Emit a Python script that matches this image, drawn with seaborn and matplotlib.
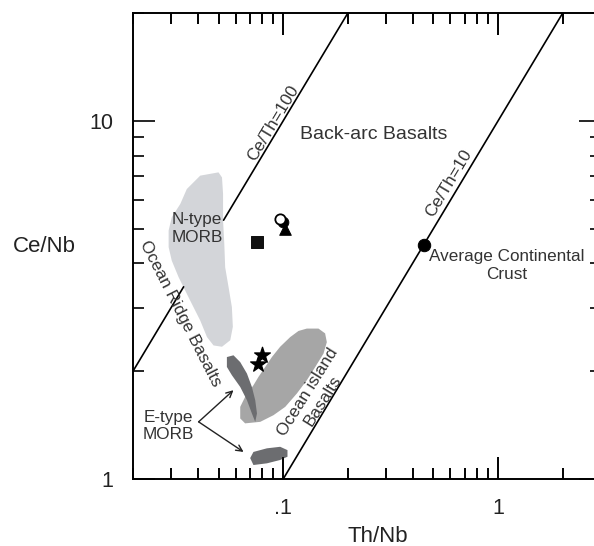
import matplotlib
matplotlib.use("Agg")
import matplotlib.pyplot as plt
from matplotlib.patches import FancyArrowPatch
from matplotlib.ticker import NullFormatter, FixedLocator, FixedFormatter, LogLocator
import seaborn as sns

# Compositional fields (Th/Nb, Ce/Nb)
nmorb_th_nb = [0.050, 0.0411, 0.0356, 0.0332, 0.0303, 0.0293, 0.0293, 0.0303, 0.0326, 0.0369,
               0.0411, 0.0442, 0.0474, 0.0519, 0.0567, 0.0583, 0.0577, 0.0557, 0.0537, 0.0532,
               0.0525, 0.0525, 0.0519]
nmorb_ce_nb = [7.18, 7.03, 6.45, 5.86, 5.38, 4.94, 4.44, 4.07, 3.66, 3.15,
               2.77, 2.49, 2.36, 2.34, 2.44, 2.66, 3.02, 3.43, 3.90, 4.53,
               5.27, 6.25, 6.95]

oib_th_nb = [0.1288, 0.146, 0.1567, 0.1596, 0.154, 0.141, 0.1288, 0.1158, 0.1022, 0.0901,
             0.0782, 0.0665, 0.0631, 0.0631, 0.0665, 0.0727, 0.0767, 0.0825, 0.0886, 0.0968,
             0.1078, 0.1178]
oib_ce_nb = [2.63, 2.63, 2.55, 2.41, 2.24, 2.055, 1.887, 1.733, 1.59, 1.507,
             1.444, 1.43, 1.476, 1.59, 1.695, 1.827, 1.927, 2.055, 2.19, 2.34,
             2.49, 2.59]

emorb_a_th_nb = [0.0547, 0.0587, 0.0631, 0.0678, 0.0715, 0.0741, 0.0755, 0.0741, 0.0715,
                 0.0678, 0.0631, 0.0577, 0.0547]
emorb_a_ce_nb = [2.19, 2.215, 2.12, 1.97, 1.807, 1.66, 1.524, 1.444, 1.524,
                 1.66, 1.807, 1.949, 2.055]

emorb_b_th_nb = [0.0727, 0.084, 0.0968, 0.1047, 0.1047, 0.0968, 0.084, 0.0727, 0.0702]
emorb_b_ce_nb = [1.19, 1.218, 1.23, 1.204, 1.154, 1.13, 1.106, 1.094, 1.144]

# Constant Ce/Th reference lines
ce_th100_low_x = [0.02, 0.0344]
ce_th100_low_y = [2.0, 3.44]
ce_th100_high_x = [0.0528, 0.2]
ce_th100_high_y = [5.28, 20.0]
ce_th10_x = [0.1, 2.0]
ce_th10_y = [1.0, 20.0]

# Samples
open_circle = (0.0965, 5.33)
filled_circle = (0.100, 5.21)
triangle = (0.1018, 4.99)
square = (0.0752, 4.58)
stars_th_nb = [0.0796, 0.0767]
stars_ce_nb = [2.215, 2.10]
crust = (0.45, 4.5)

# E-type MORB pointer: shared origin and two targets
pointer_origin = (0.0404, 1.444)
pointer_targets = [(0.0587, 1.77), (0.0654, 1.19)]

x_ticks = [0.1, 1]
x_tick_labels = [".1", "1"]
y_ticks = [1, 10]
y_tick_labels = ["1", "10"]

sns.set_style("ticks")
plt.rcParams["font.family"] = ["Liberation Sans", "DejaVu Sans"]

rect = [133 / 594, 67 / 546, 467.6 / 594, 466 / 546]
fig = plt.figure(figsize=(5.94, 5.46), dpi=100, facecolor="white")
ax = fig.add_axes(rect)
ax.set_xscale("log")
ax.set_yscale("log")
ax.set_xlim(0.02, 3)
ax.set_ylim(1, 20)

# fields
ax.fill(nmorb_th_nb, nmorb_ce_nb, color="#d3d5d9", lw=0, zorder=1)
ax.fill(oib_th_nb, oib_ce_nb, color="#a6a6a6", lw=0, zorder=2)
ax.fill(emorb_a_th_nb, emorb_a_ce_nb, color="#6c6d70", lw=0, zorder=3)
ax.fill(emorb_b_th_nb, emorb_b_ce_nb, color="#6c6d70", lw=0, zorder=3)

# reference lines
for xs, ys in [(ce_th100_low_x, ce_th100_low_y), (ce_th100_high_x, ce_th100_high_y),
               (ce_th10_x, ce_th10_y)]:
    sns.lineplot(x=xs, y=ys, color="black", lw=1.2, ax=ax, zorder=4, estimator=None, sort=False)

# samples
sns.scatterplot(x=[square[0]], y=[square[1]], marker="s", s=80, color="#111111",
                edgecolor="#111111", ax=ax, zorder=6)
sns.scatterplot(x=[triangle[0]], y=[triangle[1]], marker="^", s=70, color="black",
                edgecolor="black", ax=ax, zorder=6)
sns.scatterplot(x=[filled_circle[0]], y=[filled_circle[1]], marker="o", s=60, color="black",
                edgecolor="black", ax=ax, zorder=6)
sns.scatterplot(x=[open_circle[0]], y=[open_circle[1]], marker="o", s=55, facecolor="white",
                edgecolor="black", linewidth=1.3, ax=ax, zorder=7)
sns.scatterplot(x=stars_th_nb, y=stars_ce_nb, marker="*", s=140, color="black",
                edgecolor="black", ax=ax, zorder=6)
sns.scatterplot(x=[crust[0]], y=[crust[1]], marker="o", s=80, color="black",
                edgecolor="black", ax=ax, zorder=6)

# labels
lab = dict(fontsize=12.3, color="#333333", zorder=8)
ax.text(0.2625, 9.14, "Back-arc Basalts", ha="center", va="center", fontsize=14,
        color="#333333", zorder=8)
ax.text(0.0398, 5.0, "N-type\nMORB", ha="center", va="center", multialignment="center", **lab)
ax.text(1.10, 3.95, "Average Continental\nCrust", ha="center", va="center",
        multialignment="center", **lab)
ax.text(0.0898, 9.87, "Ce/Th=100", ha="center", va="center", rotation=59,
        rotation_mode="anchor", **lab)
ax.text(0.591, 6.68, "Ce/Th=10", ha="center", va="center", rotation=59,
        rotation_mode="anchor", **lab)
ax.text(0.0332, 2.90, "Ocean Ridge Basalts", ha="center", va="center", rotation=-63,
        rotation_mode="anchor", **lab)
ax.text(0.1415, 1.70, "Ocean island\nBasalts", ha="center", va="center", rotation=58,
        rotation_mode="anchor", multialignment="center", **lab)
ax.text(0.0292, 1.405, "E-type\nMORB", ha="center", va="center", multialignment="center", **lab)

# pointer arrows from the E-type MORB label
for target in pointer_targets:
    ax.add_patch(FancyArrowPatch(pointer_origin, target, arrowstyle="->", mutation_scale=11,
                                 color="#222222", lw=1.0, shrinkA=0, shrinkB=0,
                                 transform=ax.transData, zorder=8))

ax.set_xlabel("Th/Nb", fontsize=16, color="#222222")
ax.xaxis.set_label_coords(0.523, -0.10)
ax.set_ylabel("Ce/Nb", fontsize=16, rotation=0, ha="center", va="center", color="#222222")
ax.yaxis.set_label_coords(-0.19, 0.498)

for sp in ax.spines.values():
    sp.set_linewidth(1.4)
    sp.set_edgecolor("black")

# axis ticks: inward on all four sides
ax.xaxis.set_major_locator(FixedLocator(x_ticks))
ax.xaxis.set_major_formatter(FixedFormatter(x_tick_labels))
ax.yaxis.set_major_locator(FixedLocator(y_ticks))
ax.yaxis.set_major_formatter(FixedFormatter(y_tick_labels))
ax.xaxis.set_minor_formatter(NullFormatter())
ax.yaxis.set_minor_formatter(NullFormatter())
ax.tick_params(which="both", direction="in", top=True, right=True, color="black")
ax.tick_params(which="major", length=16, width=1.2, labelsize=15.5, pad=14,
               labelcolor="#222222")
ax.tick_params(which="minor", length=8, width=1.2)

# transparent overlay carrying the Th/Nb tick marks along the top and bottom edges
tick_ax = fig.add_axes(rect, facecolor="none")
tick_ax.set_xscale("log")
tick_ax.set_yscale("log")
tick_ax.set_xlim(ax.get_xlim())
tick_ax.set_ylim(ax.get_ylim())
for sp in tick_ax.spines.values():
    sp.set_visible(False)
tick_ax.xaxis.set_major_locator(FixedLocator(x_ticks))
tick_ax.xaxis.set_minor_locator(LogLocator(base=10, subs=range(2, 10)))
tick_ax.xaxis.set_major_formatter(NullFormatter())
tick_ax.xaxis.set_minor_formatter(NullFormatter())
tick_ax.tick_params(axis="x", which="both", direction="in", bottom=True, top=True,
                    labelbottom=False, labeltop=False, color="black", width=1.2)
tick_ax.tick_params(axis="x", which="major", length=16)
tick_ax.tick_params(axis="x", which="minor", length=8)
tick_ax.tick_params(axis="y", which="both", left=False, right=False,
                    labelleft=False, labelright=False)
tick_ax.set_xlabel("")
tick_ax.set_ylabel("")

fig.savefig("out.png", dpi=100, facecolor="white")
